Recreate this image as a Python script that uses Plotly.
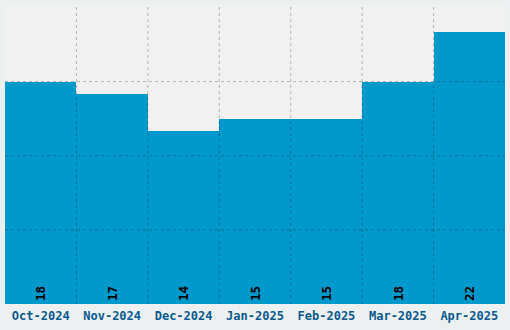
import plotly.graph_objects as go

months = ["Oct-2024", "Nov-2024", "Dec-2024", "Jan-2025", "Feb-2025", "Mar-2025", "Apr-2025"]
values = [18, 17, 14, 15, 15, 18, 22]
y_grid = [6, 12, 18]

fig = go.Figure(go.Bar(
    x=months, y=values, text=[str(v) for v in values],
    textposition="inside", insidetextanchor="start", textangle=-90,
    textfont=dict(family="DejaVu Sans Mono", size=12.5, color="#000000", weight="bold"),
    marker=dict(color="#0099cc", line=dict(width=0)),
    hoverinfo="skip",
))

shapes = []
grid_style = dict(color="rgba(0,0,0,0.25)", width=1, dash="3px,3px")
for i in range(1, len(months)):
    shapes.append(dict(type="line", xref="x", yref="paper", x0=i - 0.5, x1=i - 0.5,
                       y0=0, y1=1, layer="above", line=grid_style))
for g in y_grid:
    shapes.append(dict(type="line", xref="paper", yref="y", x0=0, x1=1,
                       y0=g, y1=g, layer="above", line=grid_style))

fig.update_layout(
    width=510, height=330,
    margin=dict(l=5, r=5, t=5, b=26),
    paper_bgcolor="#edf0f0", plot_bgcolor="#f1f1f1",
    bargap=0, showlegend=False, shapes=shapes,
    xaxis=dict(showgrid=False, zeroline=False, ticks="", showline=False,
               ticklabelstandoff=3,
               tickfont=dict(family="DejaVu Sans Mono", size=12, color="#0a5a8f", weight="bold")),
    yaxis=dict(range=[0, 24.2], showgrid=False, zeroline=False, showticklabels=False,
               ticks="", showline=False),
)

fig.write_html("out.html")
